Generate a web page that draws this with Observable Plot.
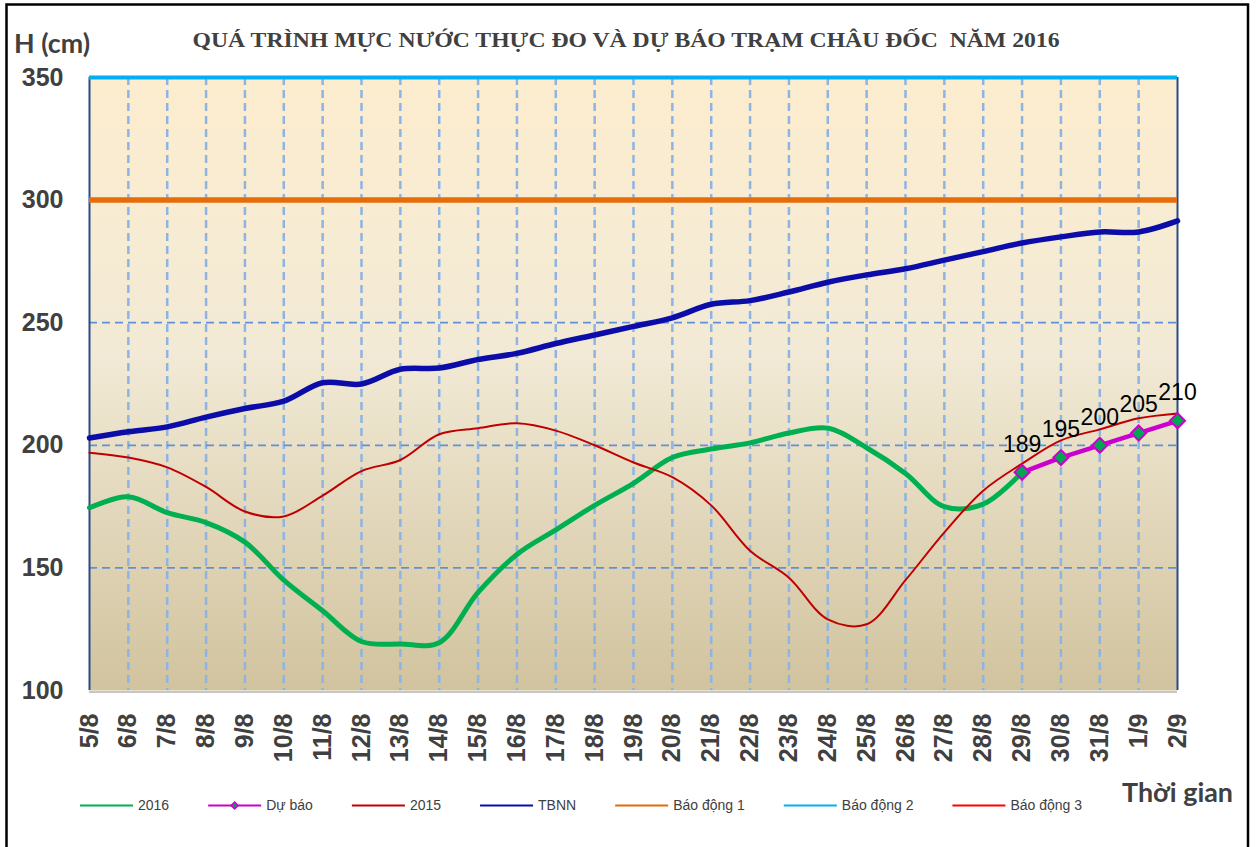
<!DOCTYPE html>
<html>
<head>
<meta charset="utf-8">
<script src="https://cdn.jsdelivr.net/npm/d3@7"></script>
<script src="https://cdn.jsdelivr.net/npm/@observablehq/plot@0.6"></script>
<style>
  body { margin: 0; background: #ffffff; }
  #chart { position: relative; width: 1257px; height: 847px; overflow: hidden; }
</style>
</head>
<body>
<div id="chart"></div>
<script>
// ---------------- DATA ----------------
const dates = ["5/8","6/8","7/8","8/8","9/8","10/8","11/8","12/8","13/8","14/8","15/8","16/8","17/8","18/8","19/8","20/8","21/8","22/8","23/8","24/8","25/8","26/8","27/8","28/8","29/8","30/8","31/8","1/9","2/9"];
const h2016 = [174.5,179,172.5,168.5,160.5,145,132.5,120,119,119.5,140,155.5,165.5,175.5,184.5,195,198.5,201,205,207,199,188.5,175,176,189];
const forecastDates = ["29/8","30/8","31/8","1/9","2/9"];
const forecast = [189,195,200,205,210];
const h2015 = [197,195,191,183,173,171,179.5,189.5,194,204.5,207,209,206,200,193,187,175.5,157,146,129,127,145,164.5,181.5,192.5,202,206.5,211,213];
const tbnn = [203,205.5,207.5,211.5,215,218,225.5,225,231,231.5,235,237.5,241.5,245,248.5,252,257.5,259,262.5,266.5,269.5,272,275.5,279,282.5,285,287,287,291.5];
const alarmLevels = [300, 350, 400];
const seriesNames = ["2016", "Dự báo", "2015", "TBNN", "Báo động 1", "Báo động 2", "Báo động 3"];
const yTicks = [100, 150, 200, 250, 300, 350];
const gridY = [150, 200, 250];
const titleText = "QUÁ TRÌNH MỰC NƯỚC THỰC ĐO VÀ DỰ BÁO TRẠM CHÂU ĐỐC  NĂM 2016";
const yLabel = "H (cm)";
const xLabel = "Thời gian";

// ---------------- STYLES ----------------
const colors = {
  "2016": "#00B050", "Dự báo": "#CC00CC", "2015": "#C00000", "TBNN": "#0C0CA8",
  "Báo động 1": "#E46C0A", "Báo động 2": "#00B0F0", "Báo động 3": "#FF0000"
};

const idx = d => dates.indexOf(d);
const rows16 = h2016.map((v, i) => ({x: i, y: v}));
const rows15 = h2015.map((v, i) => ({x: i, y: v}));
const rowsTb = tbnn.map((v, i) => ({x: i, y: v}));
const rowsFc = forecast.map((v, i) => ({x: idx(forecastDates[i]), y: v}));
const dateIdx = dates.map((d, i) => i);

const diamondSym = {
  draw(ctx, size) {
    const h = Math.sqrt(size / 2);
    ctx.moveTo(0, -h); ctx.lineTo(h, 0); ctx.lineTo(0, h); ctx.lineTo(-h, 0); ctx.closePath();
  }
};

const svgNode = Plot.plot({
  width: 1257,
  height: 847,
  marginLeft: 89,
  marginRight: 80,
  marginTop: 77,
  marginBottom: 157,
  style: {fontFamily: "'Liberation Sans', Arial, sans-serif", color: "#404040", background: "transparent"},
  x: {type: "linear", domain: [0, dates.length - 1]},
  y: {domain: [100, 350]},
  marks: [
    Plot.frame({fill: "url(#bgGrad)"}),
    Plot.ruleX(dateIdx.slice(1, -1), {stroke: "#8DB4E2", strokeWidth: 2.5, strokeDasharray: "8,5"}),
    Plot.ruleY(gridY, {stroke: "#5F91D8", strokeWidth: 1.8, strokeDasharray: "8,5"}),
    Plot.ruleY([100], {stroke: "#C6C6C6", strokeWidth: 2, dy: 1.5}),
    Plot.ruleX([0, dates.length - 1], {stroke: "#2A4C86", strokeWidth: 2}),
    Plot.ruleY([alarmLevels[0]], {stroke: colors["Báo động 1"], strokeWidth: 5.5}),
    Plot.ruleY([alarmLevels[1]], {stroke: colors["Báo động 2"], strokeWidth: 4}),
    Plot.line(rows16, {x: "x", y: "y", stroke: colors["2016"], strokeWidth: 5, curve: "catmull-rom"}),
    Plot.line(rowsFc, {x: "x", y: "y", stroke: colors["Dự báo"], strokeWidth: 4.5}),
    Plot.line(rows15, {x: "x", y: "y", stroke: colors["2015"], strokeWidth: 2, curve: "catmull-rom"}),
    Plot.line(rowsTb, {x: "x", y: "y", stroke: colors["TBNN"], strokeWidth: 5.5, curve: "catmull-rom"}),
    Plot.dot(rowsFc, {x: "x", y: "y", symbol: diamondSym, r: 6, fill: "#00A651", stroke: colors["Dự báo"], strokeWidth: 2}),
    Plot.text(rowsFc, {x: "x", y: "y", text: d => String(d.y), dy: -28, fontSize: 23, fill: "#000000"}),
    Plot.axisY({ticks: yTicks, tickSize: 0, tickPadding: 26, fontSize: 25, fontWeight: "bold", label: null}),
    Plot.axisX({ticks: dateIdx, tickFormat: i => dates[i], tickRotate: -90, tickSize: 0, tickPadding: 23, fontSize: 25, fontWeight: "bold", label: null})
  ]
});

document.getElementById("chart").appendChild(svgNode);
const svg = d3.select(svgNode);

// gradient background
const defs = svg.insert("defs", ":first-child");
const grad = defs.append("linearGradient").attr("id", "bgGrad").attr("x1", 0).attr("y1", 0).attr("x2", 0).attr("y2", 1);
grad.append("stop").attr("offset", "0%").attr("stop-color", "#FDEDCF");
grad.append("stop").attr("offset", "45%").attr("stop-color", "#F2EAD6");
grad.append("stop").attr("offset", "100%").attr("stop-color", "#D1C39E");

// outer border
svg.append("rect").attr("x", 6.5).attr("y", 4.5).attr("width", 1241.5).attr("height", 860)
  .attr("fill", "none").attr("stroke", "#000").attr("stroke-width", 2.5);

// title
svg.append("text").attr("x", 626).attr("y", 47).attr("text-anchor", "middle")
  .attr("font-family", "'Liberation Serif', 'Times New Roman', serif").attr("font-weight", "bold")
  .attr("font-size", 22).attr("fill", "#404040")
  .attr("textLength", 867).attr("lengthAdjust", "spacingAndGlyphs")
  .text(titleText);

// axis titles
svg.append("text").attr("x", 14).attr("y", 53).attr("text-anchor", "start")
  .attr("font-family", "Lato, 'Open Sans', sans-serif").attr("font-weight", "bold")
  .attr("font-size", 27).attr("fill", "#404040")
  .attr("textLength", 76).attr("lengthAdjust", "spacingAndGlyphs")
  .text(yLabel);
svg.append("text").attr("x", 1122).attr("y", 802).attr("text-anchor", "start")
  .attr("font-family", "Lato, 'Open Sans', sans-serif").attr("font-weight", "bold")
  .attr("font-size", 27).attr("fill", "#404040")
  .attr("textLength", 111).attr("lengthAdjust", "spacingAndGlyphs")
  .text(xLabel);

// legend
const lg = svg.append("g").attr("font-family", "'Liberation Sans', Arial, sans-serif")
  .attr("font-size", 14).attr("fill", "#404040").attr("text-anchor", "start");
let lx = 80;
const ly = 805.5;
seriesNames.forEach(name => {
  lg.append("line").attr("x1", lx).attr("x2", lx + 53).attr("y1", ly).attr("y2", ly)
    .attr("stroke", colors[name]).attr("stroke-width", 2.2);
  if (name === "Dự báo") {
    const cx = lx + 26.5, h = 3.5;
    lg.append("path").attr("d", `M${cx},${ly - h}L${cx + h},${ly}L${cx},${ly + h}L${cx - h},${ly}Z`)
      .attr("fill", "#00A651").attr("stroke", colors[name]).attr("stroke-width", 1.5);
  }
  const t = lg.append("text").attr("x", lx + 58).attr("y", ly).attr("dy", "0.35em")
    .attr("text-anchor", "start").text(name);
  lx = lx + 58 + t.node().getComputedTextLength() + 39;
});
</script>
</body>
</html>
